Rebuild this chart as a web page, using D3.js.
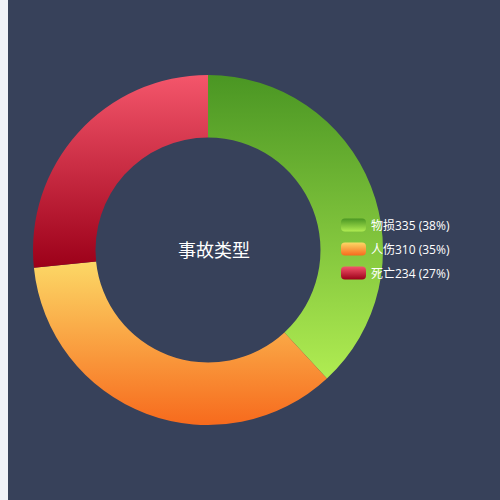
<!DOCTYPE html>
<html>
<head>
<meta charset="utf-8">
<script src="https://cdn.jsdelivr.net/npm/d3@7"></script>
<style>
  body { margin: 0; background: #f0f2f8; }
  svg { display: block; }
</style>
</head>
<body>
<div id="chart"></div>
<script>
var names = ['物损', '人伤', '死亡']
var values = [335, 310, 234]
var topColors = ['#4a9623', '#fcd866', '#f4566b']
var bottomColors = ['#b0ec52', '#f76a1d', '#9c0019']
var title = '事故类型'

var width = 500, height = 500
var cx = 208, cy = 250
var inner = 112.5, outer = 175

var svg = d3.select('#chart').append('svg')
  .attr('width', width)
  .attr('height', height)

svg.append('rect')
  .attr('x', 8).attr('y', 0)
  .attr('width', width - 8).attr('height', height)
  .attr('fill', '#37415a')

var defs = svg.append('defs')
names.forEach(function(n, i){
  var grad = defs.append('linearGradient')
    .attr('id', 'grad' + i)
    .attr('x1', 0).attr('y1', 0).attr('x2', 0).attr('y2', 1)
  grad.append('stop').attr('offset', '0%').attr('stop-color', topColors[i])
  grad.append('stop').attr('offset', '100%').attr('stop-color', bottomColors[i])
})

var data = names.map(function(n, i){ return {name: n, value: values[i], i: i} })
var total = d3.sum(values)

var pie = d3.pie().sort(null).value(function(d){ return d.value })
var arc = d3.arc().innerRadius(inner).outerRadius(outer)

var g = svg.append('g').attr('transform', 'translate(' + cx + ',' + cy + ')')

g.selectAll('path')
  .data(pie(data))
  .join('path')
  .attr('d', arc)
  .attr('fill', function(d){ return 'url(#grad' + d.data.i + ')' })

svg.append('text')
  .attr('x', 214).attr('y', 249)
  .attr('text-anchor', 'middle')
  .attr('dominant-baseline', 'central')
  .attr('fill', '#fff')
  .attr('font-family', '"Noto Sans CJK SC", sans-serif')
  .attr('font-size', 18)
  .text(title)

// legend
var legend = svg.append('g').attr('transform', 'translate(341,225)')
var item = legend.selectAll('g')
  .data(data)
  .join('g')
  .attr('transform', function(d, i){ return 'translate(0,' + (i * 24) + ')' })

item.append('rect')
  .attr('x', 0).attr('y', -6.5)
  .attr('width', 25).attr('height', 13)
  .attr('rx', 4)
  .attr('fill', function(d){ return 'url(#grad' + d.i + ')' })

item.append('text')
  .attr('x', 30).attr('y', 0)
  .attr('dominant-baseline', 'central')
  .attr('fill', '#fff')
  .attr('font-family', '"Open Sans", "Noto Sans CJK SC", sans-serif')
  .attr('font-size', 12)
  .text(function(d){ return d.name + d.value + ' (' + Math.round(d.value / total * 100) + '%)' })
</script>
</body>
</html>
